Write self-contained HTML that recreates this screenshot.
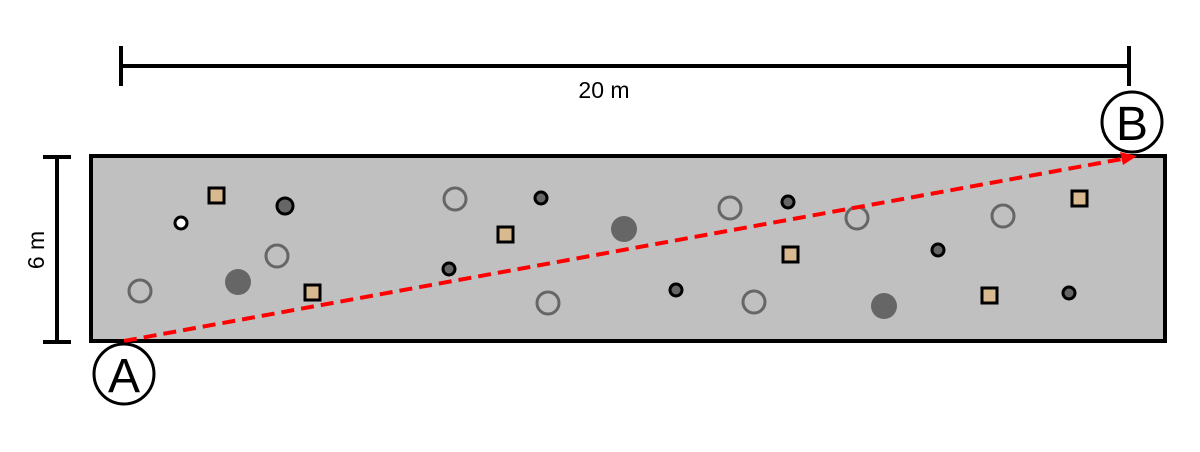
<!DOCTYPE html>
<html><head><style>body{margin:0;background:#fff}</style></head><body>
<svg width="1200" height="447" xmlns="http://www.w3.org/2000/svg" font-family="Liberation Sans, sans-serif">
<g stroke="#000" stroke-width="4">
<line x1="121" y1="66" x2="1129" y2="66"/><line x1="121" y1="46" x2="121" y2="86"/><line x1="1129" y1="46" x2="1129" y2="86"/>
<line x1="57" y1="157" x2="57" y2="342"/><line x1="43" y1="157" x2="71" y2="157"/><line x1="43" y1="342" x2="71" y2="342"/>
</g>
<text x="604" y="98" font-size="23" text-anchor="middle">20 m</text>
<text x="0" y="0" font-size="23" text-anchor="middle" transform="translate(44,250) rotate(-90)">6 m</text>
<rect x="91" y="156" width="1074" height="185" fill="#c0c0c0" stroke="#000" stroke-width="4"/>
<g fill="none" stroke="#666" stroke-width="3">
<circle cx="140" cy="291" r="11"/><circle cx="277" cy="256" r="11"/><circle cx="455" cy="199" r="11"/><circle cx="548" cy="303" r="11"/><circle cx="730" cy="208" r="11"/><circle cx="754" cy="302" r="11"/><circle cx="857" cy="218" r="11"/><circle cx="1003" cy="216" r="11"/>
</g>
<g fill="#666"><circle cx="238" cy="282" r="13"/><circle cx="624" cy="229" r="13"/><circle cx="884" cy="306" r="13"/></g>
<g fill="#666" stroke="#000" stroke-width="3">
<circle cx="285" cy="206" r="8"/><circle cx="541" cy="198" r="6"/><circle cx="449" cy="269" r="6"/><circle cx="788" cy="202" r="6"/><circle cx="676" cy="290" r="6"/><circle cx="938" cy="250" r="6"/><circle cx="1069" cy="293" r="6"/>
</g>
<circle cx="181" cy="223" r="6" fill="#fff" stroke="#000" stroke-width="3"/>
<g fill="#d9b98f" stroke="#000" stroke-width="3">
<rect x="209" y="188" width="15" height="15"/><rect x="305" y="285" width="15" height="15"/><rect x="498" y="227" width="15" height="15"/><rect x="783" y="247" width="15" height="15"/><rect x="1072" y="191" width="15" height="15"/><rect x="982" y="288" width="15" height="15"/>
</g>
<line x1="124" y1="341" x2="1122" y2="159" stroke="#f00" stroke-width="4" stroke-dasharray="13,7"/>
<polygon points="1137,156 1120,152 1123,165" fill="#f00"/>
<circle cx="124" cy="374" r="30" fill="#fff" stroke="#000" stroke-width="3"/>
<text x="124" y="392" font-size="48" text-anchor="middle">A</text>
<circle cx="1132" cy="122" r="30" fill="#fff" stroke="#000" stroke-width="3"/>
<text x="1132" y="140" font-size="48" text-anchor="middle">B</text>
</svg>
</body></html>
